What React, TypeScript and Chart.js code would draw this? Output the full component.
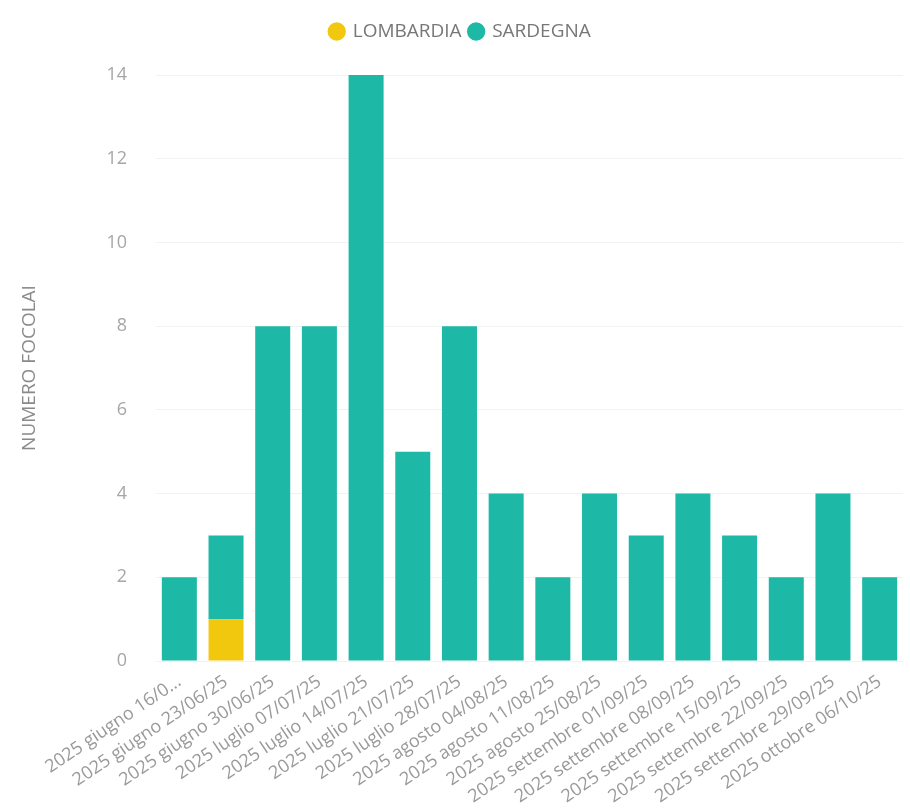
import React, { useEffect, useRef } from "react";
import { Chart, registerables } from "chart.js";

Chart.register(...registerables);

const categories = [
  "2025 giugno 16/0...",
  "2025 giugno 23/06/25",
  "2025 giugno 30/06/25",
  "2025 luglio 07/07/25",
  "2025 luglio 14/07/25",
  "2025 luglio 21/07/25",
  "2025 luglio 28/07/25",
  "2025 agosto 04/08/25",
  "2025 agosto 11/08/25",
  "2025 agosto 25/08/25",
  "2025 settembre 01/09/25",
  "2025 settembre 08/09/25",
  "2025 settembre 15/09/25",
  "2025 settembre 22/09/25",
  "2025 settembre 29/09/25",
  "2025 ottobre 06/10/25",
];

const lombardia = [0, 1, 0, 0, 0, 0, 0, 0, 0, 0, 0, 0, 0, 0, 0, 0];
const sardegna = [2, 2, 8, 8, 14, 5, 8, 4, 2, 4, 3, 4, 3, 2, 4, 2];

const yTicks = [0, 2, 4, 6, 8, 10, 12, 14];

const FONT = "'Open Sans', 'DejaVu Sans', sans-serif";

const legendSpacer = {
  id: "legendSpacer",
  beforeInit(chart: any) {
    const lg = chart.legend;
    if (!lg) return;
    const orig = lg.fit;
    lg.fit = function () {
      orig.call(this);
      this.height += 24;
    };
  },
};

export default function App() {
  const ref = useRef<HTMLCanvasElement | null>(null);

  useEffect(() => {
    if (!ref.current) return;
    const chart = new Chart(ref.current, {
      type: "bar",
      data: {
        labels: categories,
        datasets: [
          {
            label: "LOMBARDIA",
            data: lombardia,
            backgroundColor: "#F2C80F",
            borderWidth: 0,
            categoryPercentage: 0.75,
            barPercentage: 1,
          },
          {
            label: "SARDEGNA",
            data: sardegna,
            backgroundColor: "#1DB9A6",
            borderWidth: 0,
            categoryPercentage: 0.75,
            barPercentage: 1,
          },
        ],
      },
      options: {
        animation: false,
        responsive: true,
        maintainAspectRatio: false,
        layout: { padding: { top: 14, right: 7, bottom: 0, left: 18 } },
        plugins: {
          legend: {
            display: true,
            position: "top",
            labels: {
              usePointStyle: true,
              pointStyle: "circle",
              boxWidth: 13,
              boxHeight: 13,
              padding: 8,
              color: "#777777",
              font: { family: FONT, size: 19 },
            },
          },
          tooltip: { enabled: false },
        },
        scales: {
          x: {
            stacked: true,
            grid: { display: false },
            border: { display: false },
            ticks: {
              color: "#9a9a9a",
              font: { family: FONT, size: 18 },
              minRotation: 34,
              maxRotation: 34,
              autoSkip: false,
              padding: 2,
            },
            afterFit: (s: any) => {
              s.height = 148;
            },
          },
          y: {
            stacked: true,
            min: 0,
            max: 14,
            afterBuildTicks: (s: any) => {
              s.ticks = yTicks.map((v) => ({ value: v }));
            },
            grid: { color: "#f2f2f2", lineWidth: 1, drawTicks: false },
            border: { display: false },
            ticks: {
              color: "#a6a6a6",
              font: { family: FONT, size: 18 },
              padding: 29,
            },
            title: {
              display: true,
              text: "NUMERO FOCOLAI",
              color: "#8a8a8a",
              font: { family: FONT, size: 19 },
              padding: { top: 0, bottom: 0 },
            },
            afterFit: (s: any) => {
              s.width = 138;
            },
          },
        },
      },
      plugins: [legendSpacer],
    });
    return () => chart.destroy();
  }, []);

  return (
    <div
      style={{
        position: "absolute",
        left: 0,
        top: 0,
        width: 910,
        height: 809,
        background: "#ffffff",
      }}
    >
      <canvas ref={ref} />
    </div>
  );
}
